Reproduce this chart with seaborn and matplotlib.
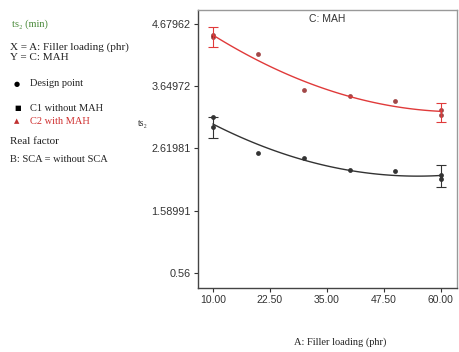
import matplotlib
matplotlib.use("Agg")
import matplotlib.pyplot as plt
import seaborn as sns
import numpy as np
import pandas as pd

# data
c1_x = [10, 10, 20, 30, 40, 50, 60, 60]
c1_y = [3.138, 2.974, 2.549, 2.456, 2.265, 2.239, 2.173, 2.12]
c2_x = [10, 10, 20, 30, 40, 50, 60, 60]
c2_y = [4.50, 4.46, 4.184, 3.589, 3.481, 3.40, 3.246, 3.175]

err_x = [10, 60]
c1_err_center = [2.96, 2.16]
c1_err_half = [0.17, 0.18]
c2_err_center = [4.46, 3.21]
c2_err_half = [0.16, 0.16]

xticks = [10.00, 22.50, 35.00, 47.50, 60.00]
yticks = [0.56, 1.58991, 2.61981, 3.64972, 4.67962]
ytick_labels = ["0.56", "1.58991", "2.61981", "3.64972", "4.67962"]

sns.set_style("white")
plt.rcParams['font.family'] = ['Liberation Sans', 'DejaVu Sans']

fig = plt.figure(figsize=(4.59, 3.52), dpi=100)
ax = fig.add_axes([0.431, 0.182, 0.565, 0.790])

df1 = pd.DataFrame({"x": c1_x, "y": c1_y})
df2 = pd.DataFrame({"x": c2_x, "y": c2_y})

sns.regplot(data=df1, x="x", y="y", order=2, ci=None, ax=ax,
            scatter_kws=dict(color="black", s=12, marker="o", linewidths=0),
            line_kws=dict(color="#333333", lw=1.0), truncate=True)
sns.regplot(data=df2, x="x", y="y", order=2, ci=None, ax=ax,
            scatter_kws=dict(color="#8b1a1a", s=12, marker="o", linewidths=0),
            line_kws=dict(color="#e03a3a", lw=1.0), truncate=True)

ax.errorbar(err_x, c1_err_center, yerr=c1_err_half, fmt="none",
            ecolor="#333333", elinewidth=0.8, capsize=3.5, capthick=0.8)
ax.errorbar(err_x, c2_err_center, yerr=c2_err_half, fmt="none",
            ecolor="#e03a3a", elinewidth=0.8, capsize=3.5, capthick=0.8)

ax.set_xlim(6.7, 63.6)
ax.set_ylim(0.31, 4.91)
ax.set_xticks(xticks)
ax.set_xticklabels([f"{v:.2f}" for v in xticks], fontsize=7.5)
ax.set_yticks(yticks)
ax.set_yticklabels(ytick_labels, fontsize=7.8)
ax.tick_params(axis="both", direction="out", length=3, width=0.8,
               colors="#333333", pad=2, left=True, bottom=True)
ax.set_xlabel("")
ax.set_ylabel("")
for s in ["left", "bottom"]:
    ax.spines[s].set_color("#444444")
    ax.spines[s].set_linewidth(1.0)
for s in ["top", "right"]:
    ax.spines[s].set_color("#999999")
    ax.spines[s].set_linewidth(1.0)

ax.text(0.5, 0.985, "C: MAH", transform=ax.transAxes, ha="center", va="top",
        fontsize=7.5, color="#333333")

serif = ['Liberation Serif', 'DejaVu Serif']
fig.text(12/459, 1-24/352, "ts\u2082 (min)", fontsize=7.5, family=serif,
         color="#4a8a3a", va="center", ha="left")
fig.text(10/459, 1-47/352, "X = A: Filler loading (phr)", fontsize=8, family=serif,
         color="#222222", va="center", ha="left")
fig.text(10/459, 1-58/352, "Y = C: MAH", fontsize=8, family=serif,
         color="#222222", va="center", ha="left")
fig.text(14/459, 1-84/352, "\u25cf", fontsize=5, family=['DejaVu Sans'],
         color="black", va="center", ha="left")
fig.text(30/459, 1-84/352, "Design point", fontsize=7.5, family=serif,
         color="#222222", va="center", ha="left")
fig.text(14/459, 1-108/352, "\u25a0", fontsize=5, family=['DejaVu Sans'],
         color="black", va="center", ha="left")
fig.text(30/459, 1-108/352, "C1 without MAH", fontsize=7.5, family=serif,
         color="#222222", va="center", ha="left")
fig.text(14/459, 1-121/352, "\u25b2", fontsize=5, family=['DejaVu Sans'],
         color="#c03030", va="center", ha="left")
fig.text(30/459, 1-121/352, "C2 with MAH", fontsize=7.5, family=serif,
         color="#d03030", va="center", ha="left")
fig.text(10/459, 1-141/352, "Real factor", fontsize=8, family=serif,
         color="#222222", va="center", ha="left")
fig.text(10/459, 1-159/352, "B: SCA = without SCA", fontsize=7.5, family=serif,
         color="#222222", va="center", ha="left")
fig.text(143/459, 1-124/352, "ts\u2082", fontsize=7, family=serif,
         color="#333333", va="center", ha="center")
fig.text(340/459, 1-342/352, "A: Filler loading (phr)", fontsize=7.5, family=serif,
         color="#222222", va="center", ha="center")

fig.savefig("out.png", dpi=100)
